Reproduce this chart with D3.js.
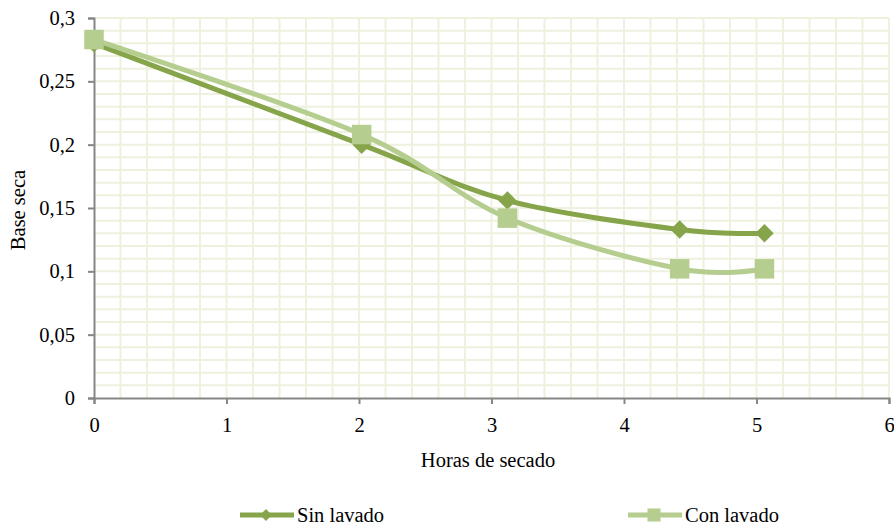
<!DOCTYPE html>
<html>
<head>
<meta charset="utf-8">
<script src="https://cdn.jsdelivr.net/npm/d3@7"></script>
<style>
  body { margin: 0; background: #fff; }
  svg text { font-family: "Liberation Serif", "DejaVu Serif", serif; fill: #000; }
</style>
</head>
<body>
<svg width="894" height="525"></svg>
<script>
	// data
	var horas = [0, 2.02, 3.12, 4.42, 5.06];
	var sin_lavado = [0.28, 0.2, 0.156, 0.133, 0.13];
	var con_lavado = [0.283, 0.208, 0.142, 0.102, 0.102];
	var x_ticks = [0, 1, 2, 3, 4, 5, 6];
	var y_ticks = [0, 0.05, 0.1, 0.15, 0.2, 0.25, 0.3];
	var series_names = ["Sin lavado", "Con lavado"];

	var chart = (function(){

		var series = [
			{ "name" : series_names[0], "values" : sin_lavado, "color" : "#86a44a", "marker" : "diamond" },
			{ "name" : series_names[1], "values" : con_lavado, "color" : "#b6cd90", "marker" : "square" }
		];

		var svg = d3.select("svg");
		var m_left = 94, m_right = 889, m_top = 18, m_bottom = 398;
		var font_size = 20.5;
		var serif = '"Liberation Serif", "DejaVu Serif", serif';

		var x = d3.scaleLinear().domain([0, 6]).range([m_left, m_right]);
		var y = d3.scaleLinear().domain([0, 0.3]).range([m_bottom, m_top]);

		var fmt = function(d){ return String(+d.toFixed(2)).replace('.', ','); };

		// grid, minor steps of 0.2 h and 0.01
		var grid = svg.append('g').attr('class','grid')
			.attr('stroke','#eef1de').attr('stroke-width',2);
		grid.selectAll('line.v').data(d3.range(1, 31).map(function(i){ return i * 0.2; }))
			.enter().append('line').attr('class','v')
			.attr('x1', function(d){ return x(d); }).attr('x2', function(d){ return x(d); })
			.attr('y1', y(0)).attr('y2', y(0.3));
		grid.selectAll('line.h').data(d3.range(1, 31).map(function(i){ return i * 0.01; }))
			.enter().append('line').attr('class','h')
			.attr('x1', x(0)).attr('x2', x(6))
			.attr('y1', function(d){ return y(d); }).attr('y2', function(d){ return y(d); });

		// axes
		var x_axis = svg.append('g').attr('transform','translate(0,' + m_bottom + ')')
			.call(d3.axisBottom(x).tickValues(x_ticks).tickFormat(fmt).tickSize(6).tickPadding(13));
		var y_axis = svg.append('g').attr('transform','translate(' + m_left + ',0)')
			.call(d3.axisLeft(y).tickValues(y_ticks).tickFormat(fmt).tickSize(6).tickPadding(13));

		[x_axis, y_axis].forEach(function(a){
			a.attr('font-family', serif).attr('font-size', font_size);
			a.select('.domain').attr('stroke','#868686').attr('stroke-width',2);
			a.selectAll('.tick line').attr('stroke','#868686').attr('stroke-width',2);
			a.selectAll('.tick text').attr('fill','#000');
		});

		// smoothed lines like the spreadsheet
		var line = d3.line()
			.x(function(d, i){ return x(horas[i]); })
			.y(function(d){ return y(d); })
			.curve(d3.curveCardinal.tension(0));

		series.forEach(function(s){
			var g = svg.append('g');
			g.append('path').datum(s.values)
				.attr('d', line)
				.attr('fill','none')
				.attr('stroke', s.color)
				.attr('stroke-width', 5)
				.attr('stroke-linejoin','round');

			g.selectAll('path.mark').data(s.values).enter()
				.append('path').attr('class','mark')
				.attr('d', s.marker == 'diamond' ?
					d3.symbol().type(d3.symbolSquare).size(170)() :
					d3.symbol().type(d3.symbolSquare).size(380)())
				.attr('transform', function(d, i){
					return 'translate(' + x(horas[i]) + ',' + y(d) + ')' + (s.marker == 'diamond' ? ' rotate(45)' : '');
				})
				.attr('fill', s.color);
		});

		// axis titles
		svg.append('text').attr('x', 488).attr('y', 467)
			.attr('text-anchor','middle').attr('font-size',font_size).text('Horas de secado');
		svg.append('text').attr('transform','translate(25,210) rotate(-90)')
			.attr('text-anchor','middle').attr('font-size',font_size).text('Base seca');

		// legend
		var legend_x = [240, 628];
		series.forEach(function(s, i){
			var lg = svg.append('g').attr('transform','translate(' + legend_x[i] + ',515)');
			lg.append('line').attr('x1',0).attr('x2',54).attr('y1',0).attr('y2',0)
				.attr('stroke', s.color).attr('stroke-width',5);
			lg.append('path')
				.attr('d', s.marker == 'diamond' ?
					d3.symbol().type(d3.symbolSquare).size(70)() :
					d3.symbol().type(d3.symbolSquare).size(170)())
				.attr('transform', 'translate(26,0)' + (s.marker == 'diamond' ? ' rotate(45)' : ''))
				.attr('fill', s.color);
			lg.append('text').attr('x', 57).attr('y', 7).attr('font-size',font_size).text(s.name);
		});

		return null;
	})();
</script>
</body>
</html>
